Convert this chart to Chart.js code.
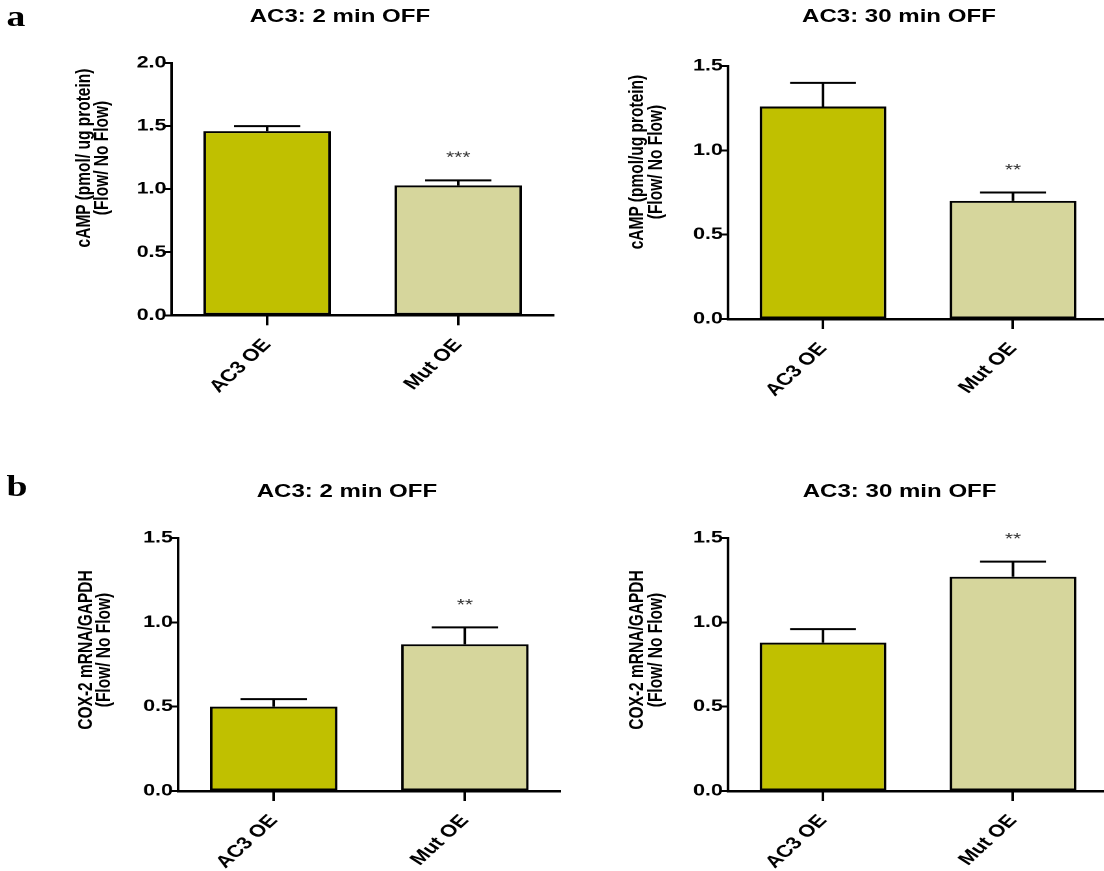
<!DOCTYPE html>
<html>
<head>
<meta charset="utf-8">
<script src="https://cdn.jsdelivr.net/npm/chart.js@4"></script>
<style>
  html, body { margin: 0; padding: 0; background: #fff; overflow: hidden; }
  /* the whole figure is a little wider than tall in the original, so stretch it */
  #fig { position: absolute; left: 0; top: 0; width: 850px; height: 871px;
         transform: scaleX(1.3); transform-origin: 0 0;
         font-family: "Liberation Sans", Arial, sans-serif; color: #000; }
  .panel { position: absolute; }
  .title { position: absolute; width: 400px; text-align: center; font-weight: bold;
           font-size: 18.5px; line-height: 20px; white-space: nowrap; }
  .ytitle { position: absolute; width: 0; height: 0; }
  .ytitle span { position: absolute; left: 0; top: 0; transform: translate(-50%, -50%) rotate(-90deg);
                 white-space: nowrap; text-align: center; font-weight: bold; font-size: 15.5px; line-height: 14px; }
  .letter { position: absolute; font-family: "Liberation Serif", serif; font-weight: bold;
            font-size: 29px; line-height: 28px; }
</style>
</head>
<body>
<div id="fig">
  <div class="letter" style="left:5px; top:1.5px;">a</div>
  <div class="letter" style="left:5px; top:471.5px;">b</div>

  <div class="title" style="left:61.5px; top:6.3px;">AC3: 2 min OFF</div>
  <div class="title" style="left:491.5px; top:6.3px;">AC3: 30 min OFF</div>
  <div class="title" style="left:66.9px; top:480.6px;">AC3: 2 min OFF</div>
  <div class="title" style="left:492px; top:480.6px;">AC3: 30 min OFF</div>

  <div class="ytitle" style="left:70.8px; top:158px;"><span>cAMP (pmol/ ug protein)<br>(Flow/ No Flow)</span></div>
  <div class="ytitle" style="left:496.9px; top:162px;"><span>cAMP (pmol/ug protein)<br>(Flow/ No Flow)</span></div>
  <div class="ytitle" style="left:73.1px; top:650px;"><span>COX-2 mRNA/GAPDH<br>(Flow/ No Flow)</span></div>
  <div class="ytitle" style="left:496.9px; top:650px;"><span>COX-2 mRNA/GAPDH<br>(Flow/ No Flow)</span></div>

  <div class="panel" style="left:71.5px; top:42.7px; width:364px; height:372.3px;"><canvas id="campShort"></canvas></div>
  <div class="panel" style="left:499.8px; top:45.7px; width:362.3px; height:373px;"><canvas id="campLong"></canvas></div>
  <div class="panel" style="left:76.7px; top:517.7px; width:364.1px; height:373px;"><canvas id="coxShort"></canvas></div>
  <div class="panel" style="left:499.8px; top:517.7px; width:362.3px; height:373px;"><canvas id="coxLong"></canvas></div>
</div>

<script>
// groups on the x axis
const groups = ['AC3 OE', 'Mut OE'];

// a: cAMP, flow / no flow
const campShortMean = [1.46, 1.03];
const campShortErr = [0.04, 0.04];
const campShortStars = ['', '***'];
const campLongMean = [1.26, 0.70];
const campLongErr = [0.14, 0.05];
const campLongStars = ['', '**'];

// b: COX-2 mRNA / GAPDH, flow / no flow
const coxShortMean = [0.50, 0.87];
const coxShortErr = [0.045, 0.10];
const coxShortStars = ['', '**'];
const coxLongMean = [0.88, 1.27];
const coxLongErr = [0.08, 0.09];
const coxLongStars = ['', '**'];

// y tick values
const ticksToTwo = [0, 0.5, 1.0, 1.5, 2.0];
const ticksToOneHalf = [0, 0.5, 1.0, 1.5];

const darkOlive = '#c0c000';
const paleOlive = '#d6d69c';
const fontFamily = '"Liberation Sans", Arial, sans-serif';

// SEM bars (upper half only) and the significance stars
const errorBars = {
    id: 'errorBars',
    afterDatasetsDraw(chart) {
        const ctx = chart.ctx;
        const yScale = chart.scales.y;
        const ds = chart.data.datasets[0];
        const meta = chart.getDatasetMeta(0);
        ctx.save();
        ctx.strokeStyle = '#000';
        ctx.lineWidth = 2;
        ctx.fillStyle = '#333';
        ctx.font = '16px ' + fontFamily;
        ctx.textAlign = 'center';
        ctx.textBaseline = 'middle';
        meta.data.forEach(function(bar, i) {
            const capY = yScale.getPixelForValue(ds.data[i] + ds.errors[i]);
            const half = bar.width * 0.26;
            ctx.beginPath();
            ctx.moveTo(bar.x, bar.y);
            ctx.lineTo(bar.x, capY);
            ctx.moveTo(bar.x - half, capY);
            ctx.lineTo(bar.x + half, capY);
            ctx.stroke();
            if (ds.stars[i]) {
                ctx.fillText(ds.stars[i], bar.x, capY - 22);
            }
        });
        ctx.restore();
    }
};

function makePanel(id, mean, err, stars, ticks) {
    return new Chart(document.getElementById(id), {
        type: 'bar',
        data: {
            labels: groups,
            datasets: [{
                data: mean,
                errors: err,
                stars: stars,
                backgroundColor: [darkOlive, paleOlive],
                borderColor: '#000',
                borderWidth: 2,
                borderSkipped: false,
                barPercentage: 0.667,
                categoryPercentage: 1
            }]
        },
        options: {
            responsive: true,
            maintainAspectRatio: false,
            animation: false,
            devicePixelRatio: 2,
            layout: { padding: { top: 20, right: 10, left: 0, bottom: 0 } },
            plugins: { legend: { display: false }, tooltip: { enabled: false } },
            scales: {
                x: {
                    grid: { offset: false, drawOnChartArea: false, drawTicks: true,
                            tickLength: 10, tickWidth: 2, tickColor: '#000' },
                    border: { display: true, color: '#000', width: 2.5 },
                    ticks: { color: '#000', autoSkip: false, minRotation: 50, maxRotation: 50, padding: 10,
                             font: { family: fontFamily, size: 17, weight: 'bold' } },
                    afterFit: function(scale) { scale.height = 100; }
                },
                y: {
                    min: ticks[0],
                    max: ticks[ticks.length - 1],
                    grid: { drawOnChartArea: false, drawTicks: true,
                            tickLength: 6, tickWidth: 2, tickColor: '#000' },
                    border: { display: true, color: '#000', width: 2 },
                    ticks: { color: '#000', padding: -2,
                             font: { family: fontFamily, size: 16.5, weight: 'bold' },
                             callback: function(v) { return Number(v).toFixed(1); } },
                    afterBuildTicks: function(scale) {
                        scale.ticks = ticks.map(function(v) { return { value: v }; });
                    },
                    afterFit: function(scale) { scale.width = 60; }
                }
            }
        },
        plugins: [errorBars]
    });
}

makePanel('campShort', campShortMean, campShortErr, campShortStars, ticksToTwo);
makePanel('campLong', campLongMean, campLongErr, campLongStars, ticksToOneHalf);
makePanel('coxShort', coxShortMean, coxShortErr, coxShortStars, ticksToOneHalf);
makePanel('coxLong', coxLongMean, coxLongErr, coxLongStars, ticksToOneHalf);
</script>
</body>
</html>
